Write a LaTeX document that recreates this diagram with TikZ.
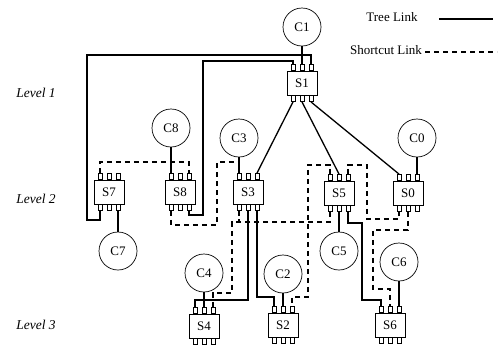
\documentclass[tikz,border=0pt]{standalone}
\usepackage{fontspec}
\setmainfont{Liberation Serif}
\begin{document}
\begin{tikzpicture}[x=1pt, y=-1pt, font=\fontsize{13}{15}\selectfont,
      sw/.style={draw, line width=0.7pt, fill=white, minimum width=30pt, minimum height=24pt, inner sep=0pt},
      cl/.style={draw, line width=0.7pt, circle, minimum size=38pt, inner sep=0pt},
      pinbox/.style={draw, line width=0.6pt, fill=white, minimum width=4pt, minimum height=6pt, inner sep=0pt},
      lvl/.style={font=\fontsize{13.5}{15}\selectfont\itshape},
      treelink/.style={line width=1.3pt},
      cutlink/.style={line width=1.1pt, dash pattern=on 5pt off 4pt}]
    \useasboundingbox (0,0) rectangle (502,346);
    \node[lvl] (lv1) at (36,93) {Level 1};
    \node[lvl] (lv2) at (36,199) {Level 2};
    \node[lvl] (lv3) at (36,325) {Level 3};
    \node[sw] (s1) at (302,83) {S1};
    \node[sw] (s7) at (109,192) {S7};
    \node[sw] (s8) at (180,192) {S8};
    \node[sw] (s3) at (248,192) {S3};
    \node[sw] (s5) at (339,193) {S5};
    \node[sw] (s0) at (408,193) {S0};
    \node[sw] (s4) at (204,326) {S4};
    \node[sw] (s2) at (283,325) {S2};
    \node[sw] (s6) at (390,325) {S6};
    \foreach \s in {s0,s1,s2,s3,s4,s5,s6,s7,s8}
      \foreach \i/\dx in {1/-9,2/0,3/9} {
        \node[pinbox, anchor=south] (\s-t\i) at ([xshift=\dx pt]\s.north) {};
        \node[pinbox, anchor=north] (\s-b\i) at ([xshift=\dx pt]\s.south) {};
      }
    \node[cl] (c1) at (302,27) {C1};
    \node[cl] (c8) at (171,128) {C8};
    \node[cl] (c3) at (239,138) {C3};
    \node[cl] (c0) at (417,138) {C0};
    \node[cl] (c7) at (118,251) {C7};
    \node[cl] (c5) at (339,251) {C5};
    \node[cl] (c4) at (204,273) {C4};
    \node[cl] (c2) at (283,274) {C2};
    \node[cl] (c6) at (399,262) {C6};
    \draw[treelink] (c1) -- (s1-t2);
    \draw[treelink] (c8) -- (s8-t1);
    \draw[treelink] (c3) -- (s3-t1);
    \draw[treelink] (c0) -- (s0-t3);
    \draw[treelink] (c7) -- (s7-b3);
    \draw[treelink] (c5) -- (s5-b2);
    \draw[treelink] (c4) -- (s4-t2);
    \draw[treelink] (c2) -- (s2-t2);
    \draw[treelink] (c6) -- (s6-t3);
    \draw[treelink] (s1-t3.north) |- (87,55) -- (87,220) -| (s7-b1.south);
    \draw[treelink] (s1-t1.north) |- (203,61) |- (189,215) -- (s8-b3.south);
    \draw[treelink] (s1-b1.south) -- (s3-t3.north);
    \draw[treelink] (s1-b2.south) -- (s5-t2.north);
    \draw[treelink] (s1-b3.south) -- (s0-t1.north);
    \draw[treelink] (s3-b2.south) |- (195,300) -- (s4-t1.north);
    \draw[treelink] (s3-b3.south) |- (274,297) -- (s2-t1.north);
    \draw[treelink] (s5-b3.south) |- (362,223) |- (381,300) -- (s6-t1.north);
    \draw[cutlink] (s7-t1.north) |- (189,162) -- (s8-t3.north);
    \draw[cutlink] (s8-b1.south) |- (217,225) |- (239,162) -- (s3-t1.north);
    \draw[cutlink] (s3-b1.south) |- (232,222) |- (213,293) -- (s4-t3.north);
    \draw[cutlink] (s5-b1.south) -- (330,222) -| (s3-b1.south);
    \draw[cutlink] (s5-t1.north) |- (308,165) |- (292,297) -- (s2-t3.north);
    \draw[cutlink] (s5-t3.north) |- (367,165) |- (399,219) -- (s0-b1.south);
    \draw[cutlink] (s0-b2.south) |- (373,230) |- (390,289) -- (s6-t2.north);
    \node (tl) at (392,17) {Tree Link};
    \node (sl) at (386,50) {Shortcut Link};
    \coordinate (tl0) at (439,19);
    \coordinate (tl1) at (493,19);
    \coordinate (sl0) at (425,52);
    \coordinate (sl1) at (497,52);
    \draw[treelink] (tl0) -- (tl1);
    \draw[cutlink] (sl0) -- (sl1);
  \end{tikzpicture}
\end{document}
